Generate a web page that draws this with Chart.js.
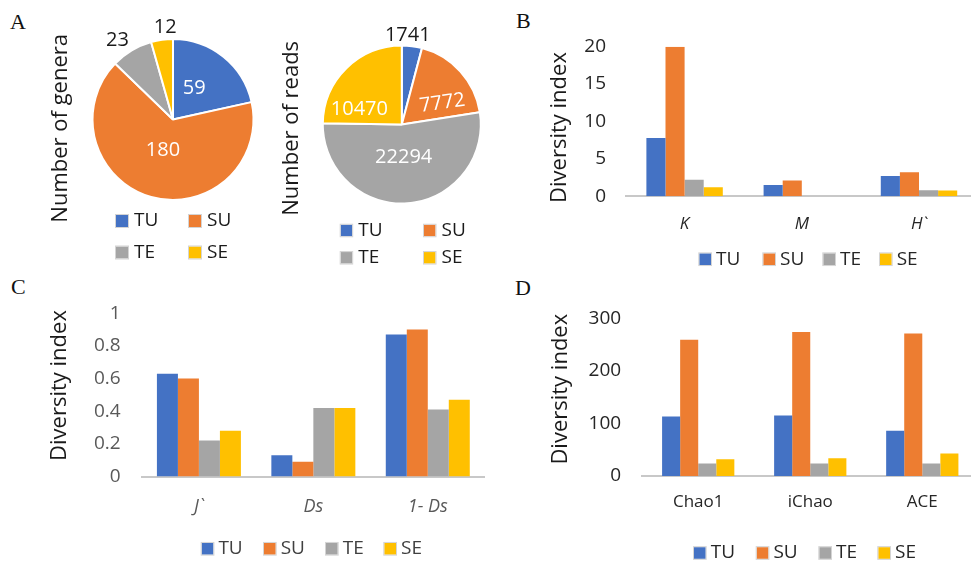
<!DOCTYPE html>
<html>
<head>
<meta charset="utf-8">
<title>Genera, reads and diversity indices by site</title>
<script src="https://cdn.jsdelivr.net/npm/chart.js@4.4.1/dist/chart.umd.min.js"></script>
<style>
  html, body { margin: 0; padding: 0; width: 971px; height: 564px; overflow: hidden; background: #fff; }
  .layer { position: absolute; left: 0; top: 0; width: 990px; height: 564px; }
  .tag { position: absolute; font-family: "Liberation Serif", "Times New Roman", serif; font-size: 22px; line-height: 22px; color: #111; }
</style>
</head>
<body>
<div class="tag" style="left:10px;top:11px">A</div>
<div class="tag" style="left:516px;top:9.5px">B</div>
<div class="tag" style="left:11px;top:276px">C</div>
<div class="tag" style="left:515px;top:277px">D</div>
<canvas id="genera" class="layer" width="990" height="564"></canvas>
<canvas id="reads" class="layer" width="990" height="564"></canvas>
<canvas id="panelB" class="layer" width="990" height="564"></canvas>
<canvas id="panelC" class="layer" width="990" height="564"></canvas>
<canvas id="panelD" class="layer" width="990" height="564"></canvas>
<script>
// Sites and their colours
const sites = ['TU', 'SU', 'TE', 'SE'];
const siteColors = ['#4472C4', '#ED7D31', '#A5A5A5', '#FFC000'];

// A: pie values
const generaCounts = [59, 180, 23, 12];
const readCounts = [1741, 7772, 22294, 10470];

// B: richness / evenness indices
const indicesB = ['K', 'M', 'H`'];
const bTU = [7.8, 1.5, 2.7];
const bSU = [20.0, 2.1, 3.2];
const bTE = [2.2, 0, 0.8];
const bSE = [1.2, 0, 0.75];
const ticksB = [0, 5, 10, 15, 20];

// C: evenness / dominance indices
const indicesC = ['J`', 'Ds', '1- Ds'];
const cTU = [0.63, 0.13, 0.87];
const cSU = [0.60, 0.09, 0.90];
const cTE = [0.22, 0.42, 0.41];
const cSE = [0.28, 0.42, 0.47];
const ticksC = [0, 0.2, 0.4, 0.6, 0.8, 1];

// D: richness estimators
const indicesD = ['Chao1', 'iChao', 'ACE'];
const dTU = [113, 115, 86];
const dSU = [259, 274, 271];
const dTE = [24, 24, 24];
const dSE = [32, 34, 43];
const ticksD = [0, 100, 200, 300];

Chart.defaults.font.family = '"Open Sans", "Noto Sans", sans-serif';

// Space reserved for the value axis and the category axis
const Y_AXIS_W = 90;
const X_AXIS_H = 50;

// Legend drawn as a grid of coloured keys
const keyLegend = {
  id: 'keyLegend',
  afterDraw(chart, args, opts) {
    const ctx = chart.ctx;
    const items = chart.config.type === 'pie'
      ? chart.data.labels.map((t, i) => ({ text: t, color: chart.data.datasets[0].backgroundColor[i] }))
      : chart.data.datasets.map(d => ({ text: d.label, color: d.backgroundColor }));
    const b = opts.box;
    ctx.save();
    ctx.font = opts.size + 'px "Open Sans", sans-serif';
    ctx.textBaseline = 'middle';
    ctx.textAlign = 'left';
    items.forEach((it, i) => {
      const x = opts.xs[i], y = opts.ys[i];
      ctx.fillStyle = it.color;
      ctx.fillRect(x, y - b / 2, b, b);
      ctx.strokeStyle = '#D4D4D4';
      ctx.lineWidth = 1;
      ctx.strokeRect(x - 0.5, y - b / 2 - 0.5, b + 1, b + 1);
      ctx.fillStyle = opts.color;
      ctx.fillText(it.text, x + b + opts.gap, y);
    });
    ctx.restore();
  }
};

// Rotated axis caption
const sideTitle = {
  id: 'sideTitle',
  afterDraw(chart, args, opts) {
    const ctx = chart.ctx;
    ctx.save();
    ctx.translate(opts.x, opts.y);
    ctx.rotate(-Math.PI / 2);
    ctx.font = opts.size + 'px "Open Sans", sans-serif';
    ctx.fillStyle = opts.color;
    ctx.textAlign = 'center';
    ctx.textBaseline = 'middle';
    ctx.fillText(opts.text, 0, 0);
    ctx.restore();
  }
};

// Value labels on pie slices
const sliceLabels = {
  id: 'sliceLabels',
  afterDatasetsDraw(chart, args, opts) {
    const ctx = chart.ctx;
    const meta = chart.getDatasetMeta(0);
    const values = chart.data.datasets[0].data;
    ctx.save();
    ctx.font = opts.size + 'px "Open Sans", sans-serif';
    ctx.textAlign = 'center';
    ctx.textBaseline = 'middle';
    meta.data.forEach((arc, i) => {
      const p = arc.getProps(['x', 'y', 'startAngle', 'endAngle', 'outerRadius'], true);
      const a = (p.startAngle + p.endAngle) / 2 + opts.shift[i] * Math.PI / 180;
      const r = p.outerRadius * opts.dist[i];
      ctx.save();
      ctx.translate(p.x + Math.cos(a) * r, p.y + Math.sin(a) * r);
      ctx.rotate((opts.tilt[i] || 0) * Math.PI / 180);
      ctx.fillStyle = opts.dist[i] > 1 ? opts.outerColor : opts.innerColor;
      ctx.fillText(String(values[i]), 0, 0);
      ctx.restore();
    });
    ctx.restore();
  }
};

function piePanel(id, values, cfg) {
  return new Chart(document.getElementById(id), {
    type: 'pie',
    data: {
      labels: sites,
      datasets: [{ data: values, backgroundColor: siteColors, borderColor: '#ffffff', borderWidth: 2 }]
    },
    options: {
      responsive: false, animation: false, events: [],
      radius: cfg.radius,
      layout: { padding: cfg.pad },
      plugins: {
        legend: { display: false }, tooltip: { enabled: false },
        sliceLabels: cfg.labels,
        keyLegend: cfg.legend,
        sideTitle: cfg.title
      }
    },
    plugins: [sliceLabels, keyLegend, sideTitle]
  });
}

// area = chart area edges {left, right, top, bottom} on the 990x564 layer
function barPanel(id, cats, series, ticks, cfg) {
  const a = cfg.area;
  return new Chart(document.getElementById(id), {
    type: 'bar',
    data: {
      labels: cats,
      datasets: sites.map((s, i) => ({
        label: s, data: series[i], backgroundColor: siteColors[i], borderWidth: 0,
        categoryPercentage: cfg.cat, barPercentage: 1
      }))
    },
    options: {
      responsive: false, animation: false, events: [],
      layout: { padding: { left: a.left - Y_AXIS_W, right: 990 - a.right, top: a.top, bottom: 564 - a.bottom - X_AXIS_H } },
      scales: {
        x: {
          grid: { display: false, drawTicks: false },
          border: { display: true, color: '#C8C8C8', width: 2 },
          ticks: { padding: cfg.xPad, color: cfg.xColor, font: { size: cfg.xSize, style: cfg.italic ? 'italic' : 'normal' } },
          afterFit: s => { s.height = X_AXIS_H; }
        },
        y: {
          min: ticks[0], max: ticks[ticks.length - 1],
          grid: { display: false, drawTicks: false },
          border: { display: false },
          ticks: { padding: cfg.yPad, color: cfg.yColor, font: { size: 19 }, callback: v => String(v) },
          afterBuildTicks: s => { s.ticks = ticks.map(v => ({ value: v })); },
          afterFit: s => { s.width = Y_AXIS_W; }
        }
      },
      plugins: {
        legend: { display: false }, tooltip: { enabled: false },
        keyLegend: cfg.legend,
        sideTitle: cfg.title
      }
    },
    plugins: [keyLegend, sideTitle]
  });
}

piePanel('genera', generaCounts, {
  radius: 80.5,
  pad: { left: 73, right: 717, top: 19.5, bottom: 344.5 },
  labels: { size: 20, innerColor: '#ffffff', outerColor: '#1a1a1a',
            dist: [0.47, 0.40, 1.20, 1.15], shift: [-4.5, 2.4, -4.2, 3.1], tilt: [0, 0, 0, 0] },
  legend: { size: 19, box: 12, gap: 6, color: '#1a1a1a', xs: [116, 189, 116, 189], ys: [221, 221, 252.5, 252.5] },
  title: { text: 'Number of genera', x: 60.5, y: 128.3, size: 22, color: '#1a1a1a' }
});

piePanel('reads', readCounts, {
  radius: 79,
  pad: { left: 301.8, right: 488.2, top: 24.5, bottom: 339.5 },
  labels: { size: 20, innerColor: '#ffffff', outerColor: '#1a1a1a',
            dist: [1.135, 0.58, 0.42, 0.57], shift: [-3.6, 14.3, 0.8, -25.8], tilt: [0, -8, 0, 0] },
  legend: { size: 19, box: 11.5, gap: 6, color: '#1a1a1a', xs: [340.7, 424, 340.7, 424], ys: [230.5, 230.5, 257.8, 257.8] },
  title: { text: 'Number of reads', x: 292.2, y: 128.3, size: 22, color: '#1a1a1a' }
});

barPanel('panelB', indicesB, [bTU, bSU, bTE, bSE], ticksB, {
  cat: 0.652,
  area: { left: 626, right: 977.6, top: 46.7, bottom: 196.2 },
  xPad: 17.3, xSize: 17, xColor: '#262626', italic: true,
  yPad: 20, yColor: '#262626',
  legend: { size: 19, box: 11.7, gap: 5, color: '#262626', xs: [699.3, 763.3, 823.3, 880], ys: [259.2, 259.2, 259.2, 259.2] },
  title: { text: 'Diversity index', x: 559.8, y: 127.5, size: 22, color: '#1a1a1a' }
});

barPanel('panelC', indicesC, [cTU, cSU, cTE, cSE], ticksC, {
  cat: 0.734,
  area: { left: 141.7, right: 485, top: 313.3, bottom: 476.5 },
  xPad: 19.6, xSize: 18, xColor: '#595959', italic: true,
  yPad: 21, yColor: '#595959',
  legend: { size: 19, box: 11.7, gap: 5, color: '#404040', xs: [201.7, 264, 326, 384.3], ys: [548.8, 548.8, 548.8, 548.8] },
  title: { text: 'Diversity index', x: 59.8, y: 385.5, size: 22, color: '#1a1a1a' }
});

barPanel('panelD', indicesD, [dTU, dSU, dTE, dSE], ticksD, {
  cat: 0.645,
  area: { left: 642.2, right: 978.3, top: 318.3, bottom: 476 },
  xPad: 16.3, xSize: 17, xColor: '#262626', italic: false,
  yPad: 21, yColor: '#262626',
  legend: { size: 19, box: 11.7, gap: 5, color: '#262626', xs: [694, 756.7, 819.3, 878.3], ys: [553, 553, 553, 553] },
  title: { text: 'Diversity index', x: 560.8, y: 389.2, size: 22, color: '#1a1a1a' }
});
</script>
</body>
</html>
